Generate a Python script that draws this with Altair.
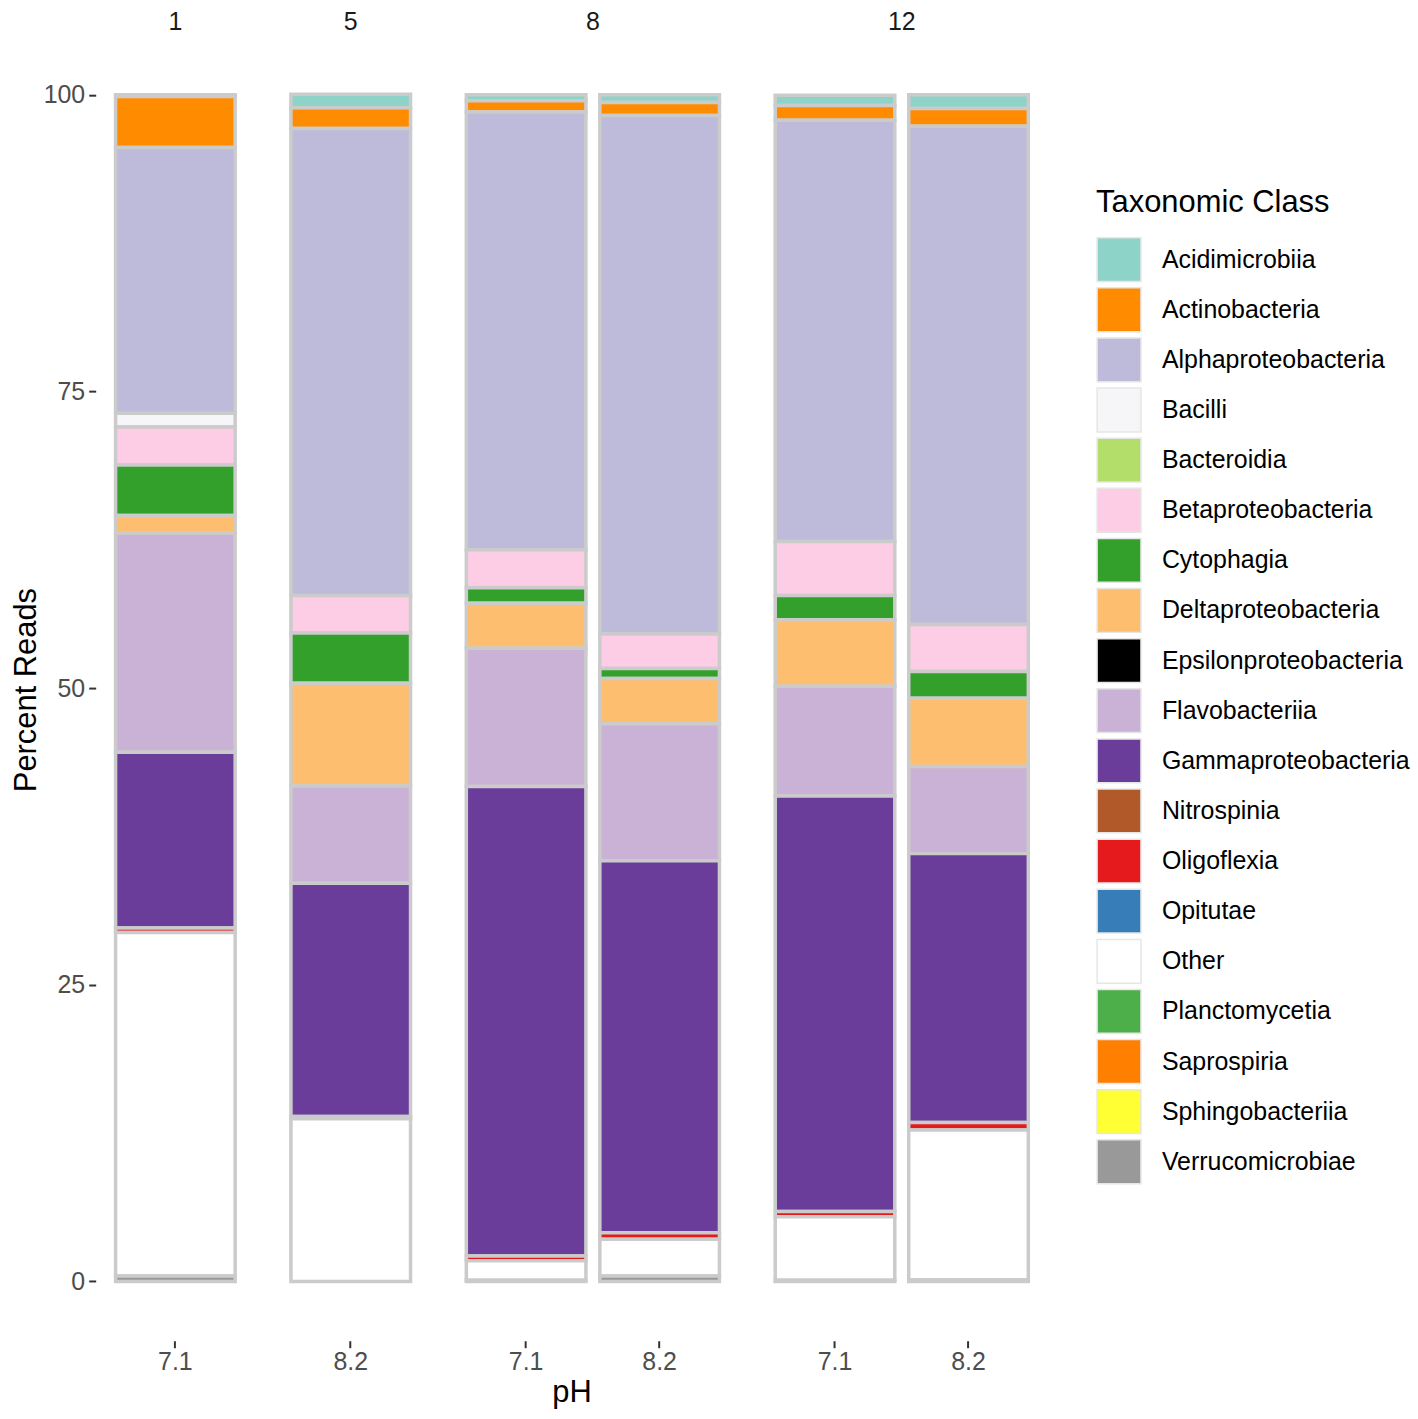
import altair as alt
import pandas as pd

classes = ["Acidimicrobiia", "Actinobacteria", "Alphaproteobacteria", "Bacilli",
           "Bacteroidia", "Betaproteobacteria", "Cytophagia", "Deltaproteobacteria",
           "Epsilonproteobacteria", "Flavobacteriia", "Gammaproteobacteria",
           "Nitrospinia", "Oligoflexia", "Opitutae", "Other", "Planctomycetia",
           "Saprospiria", "Sphingobacteriia", "Verrucomicrobiae"]
colors = ["#8DD3C7", "#FF8C00", "#BEBADA", "#F6F5F8", "#B3DE69", "#FCCDE5",
          "#33A02C", "#FDBF6F", "#000000", "#CAB2D6", "#6A3D9A", "#B15928",
          "#E41A1C", "#377EB8", "#FFFFFF", "#4DAF4A", "#FF7F00", "#FFFF33",
          "#999999"]

facet = ["1", "5", "8", "8", "12", "12"]
ph = ["7.1", "8.2", "7.1", "8.2", "7.1", "8.2"]

acidimicrobiia = [0.15, 1.15, 0.50, 0.65, 0.85, 1.15]
actinobacteria = [4.30, 1.75, 0.95, 1.10, 1.25, 1.50]
alphaproteobacteria = [22.40, 39.35, 36.90, 43.70, 35.50, 42.00]
bacilli = [1.15, 0.0, 0.0, 0.0, 0.0, 0.0]
bacteroidia = [0.0, 0.0, 0.0, 0.0, 0.0, 0.0]
betaproteobacteria = [3.20, 3.15, 3.20, 2.90, 4.55, 3.95]
cytophagia = [4.25, 4.25, 1.30, 0.85, 2.05, 2.25]
deltaproteobacteria = [1.50, 8.65, 3.80, 3.80, 5.60, 5.75]
epsilonproteobacteria = [0.0, 0.0, 0.0, 0.0, 0.0, 0.0]
flavobacteriia = [18.45, 8.20, 11.65, 11.55, 9.25, 7.35]
gammaproteobacteria = [14.82, 19.65, 39.55, 31.35, 35.00, 22.65]
nitrospinia = [0.0, 0.0, 0.0, 0.0, 0.0, 0.0]
oligoflexia = [0.38, 0.0, 0.40, 0.55, 0.45, 0.65]
opitutae = [0.0, 0.20, 0.0, 0.0, 0.0, 0.0]
other = [28.95, 13.70, 1.65, 3.10, 5.35, 12.63]
planctomycetia = [0.0, 0.0, 0.0, 0.0, 0.0, 0.0]
saprospiria = [0.0, 0.0, 0.0, 0.0, 0.0, 0.0]
sphingobacteriia = [0.0, 0.0, 0.0, 0.0, 0.0, 0.0]
verrucomicrobiae = [0.45, 0.0, 0.10, 0.45, 0.10, 0.12]

series = [acidimicrobiia, actinobacteria, alphaproteobacteria, bacilli,
          bacteroidia, betaproteobacteria, cytophagia, deltaproteobacteria,
          epsilonproteobacteria, flavobacteriia, gammaproteobacteria,
          nitrospinia, oligoflexia, opitutae, other, planctomycetia,
          saprospiria, sphingobacteriia, verrucomicrobiae]

rows = []
for i in range(len(facet)):
    for k, cls in enumerate(classes):
        v = series[k][i]
        if v > 0:
            rows.append({"facet": facet[i], "ph": ph[i], "cls": cls,
                         "idx": k, "pct": v})
df = pd.DataFrame(rows)

FONT = "Liberation Sans"

base = alt.Chart(df).mark_bar(stroke="#cbcbcb", strokeWidth=3.5).encode(
    x=alt.X("ph:N", title=None,
            scale=alt.Scale(paddingInner=0.1045, paddingOuter=0.149),
            axis=alt.Axis(labelAngle=0, labelFontSize=25, labelColor="#4d4d4d",
                          tickColor="#333333", tickSize=7, tickWidth=2,
                          domain=False, labelPadding=2, labelFont=FONT)),
    y=alt.Y("pct:Q", stack="zero", title="Percent Reads",
            scale=alt.Scale(domain=[-5, 104.75], nice=False, zero=False),
            axis=alt.Axis(values=[0, 25, 50, 75, 100], labelFontSize=25,
                          labelColor="#4d4d4d", tickColor="#333333", tickSize=7,
                          tickWidth=2, domain=False, grid=False, labelPadding=4,
                          titleFontSize=31, titleFontWeight="normal",
                          titleColor="#000000", titlePadding=1,
                          labelFont=FONT, titleFont=FONT)),
    color=alt.Color("cls:N", title="Taxonomic Class",
                    scale=alt.Scale(domain=classes, range=colors),
                    legend=alt.Legend(orient="none", legendX=1004, legendY=150,
                                      symbolType="square", symbolSize=1936,
                                      symbolStrokeColor="#e6e6e6",
                                      symbolStrokeWidth=1.5, symbolOpacity=1,
                                      labelFontSize=25, labelColor="#000000",
                                      titleFontSize=31, titleFontWeight="normal",
                                      titleColor="#000000", titlePadding=18,
                                      titleLimit=500,
                                      rowPadding=0.3, labelOffset=20,
                                      labelFont=FONT, titleFont=FONT,
                                      labelLimit=400)),
    order=alt.Order("idx:Q", sort="descending"),
).properties(width=alt.Step(134), height=1307)

chart = base.facet(
    column=alt.Column("facet:N", sort=["1", "5", "8", "12"],
                      header=alt.Header(title="pH", titleOrient="bottom",
                                        labelOrient="top", labelFontSize=25,
                                        labelColor="#1a1a1a", labelPadding=3,
                                        titleFontSize=31, titleColor="#000000",
                                        titleFontWeight="normal", titlePadding=-7,
                                        labelFont=FONT, titleFont=FONT)),
    spacing=16,
).resolve_scale(x="independent").configure(
    font=FONT, padding={"left": 2, "top": 0, "right": 0, "bottom": 0}
).configure_view(stroke="transparent", strokeWidth=0)

chart.save("out.html", embed_options={"renderer": "svg", "actions": False})
